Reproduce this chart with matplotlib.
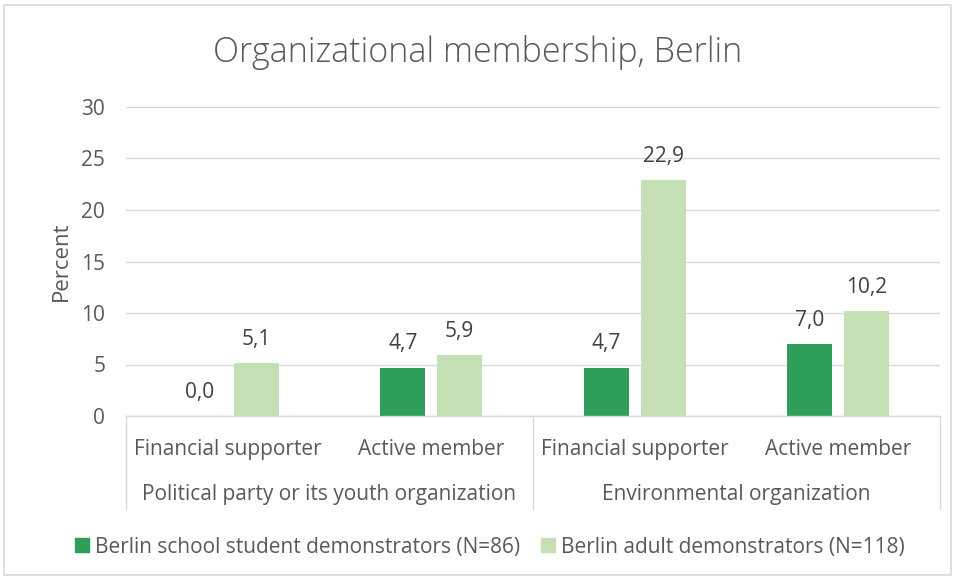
import matplotlib.pyplot as plt
from matplotlib import transforms
from matplotlib.patches import Rectangle
import numpy as np

plt.rcParams['font.family'] = ['Open Sans', 'DejaVu Sans']

subcats = ['Financial supporter', 'Active member', 'Financial supporter', 'Active member']
groups = ['Political party or its youth organization', 'Environmental organization']
students = [0.0, 4.7, 4.7, 7.0]
adults = [5.1, 5.9, 22.9, 10.2]
series_names = ['Berlin school student demonstrators (N=86)', 'Berlin adult demonstrators (N=118)']

dark = '#2E9E5A'
light = '#C5E0B4'
txt = '#595959'
grid = '#D9D9D9'
fs = 15

W, H = 956, 579
fig = plt.figure(figsize=(W / 100, H / 100), dpi=100)
ax = fig.add_axes([126 / W, 163 / H, 814 / W, 309 / H])

x = np.arange(len(subcats))
bw = 0.22
off = 0.14
b1 = ax.bar(x - off, students, bw, color=dark, zorder=3)
b2 = ax.bar(x + off, adults, bw, color=light, zorder=3)

for bars, vals in ((b1, students), (b2, adults)):
    for r, v in zip(bars, vals):
        ax.text(r.get_x() + r.get_width() / 2, v + 1.3, f'{v:.1f}'.replace('.', ','),
                ha='center', va='bottom', fontsize=fs, color='#404040')

ax.set_xlim(-0.5, 3.5)
ax.set_ylim(0, 30)
ax.set_yticks(range(0, 31, 5))
ax.yaxis.grid(True, color=grid, linewidth=1, zorder=0)
ax.tick_params(axis='y', length=0, labelsize=fs, labelcolor=txt, pad=15)
ax.set_xticks([])
for s in ax.spines.values():
    s.set_visible(False)
ax.set_ylabel('Percent', fontsize=fs + 1, color=txt, labelpad=7)

# two-level category axis
tr = transforms.blended_transform_factory(ax.transData, ax.transAxes)
for xi, lab in zip(x, subcats):
    ax.text(xi, -0.11, lab, transform=tr, ha='center', va='center',
            fontsize=fs, color=txt, clip_on=False)
for gi, g in enumerate(groups):
    ax.text(2 * gi + 0.5, -0.255, g, transform=tr, ha='center', va='center',
            fontsize=fs, color=txt, clip_on=False)
ax.plot([-0.5, 3.5], [0, 0], transform=tr, color=grid, lw=1, clip_on=False, zorder=4)
for xs in (-0.5, 1.5, 3.5):
    ax.plot([xs, xs], [0, -0.3], transform=tr, color=grid, lw=1, clip_on=False)

fig.suptitle('Organizational membership, Berlin', y=1 - 52 / H, va='center',
             fontsize=24.5, color=txt, fontweight='light')

handles = [Rectangle((0, 0), 1, 1, color=dark), Rectangle((0, 0), 1, 1, color=light)]
fig.legend(handles, series_names, loc='center', bbox_to_anchor=(0.5 + 12 / W, 1 - 547 / H),
           ncol=2, frameon=False, fontsize=fs, labelcolor=txt,
           handlelength=0.65, handleheight=0.65, handletextpad=0.3, columnspacing=1.0)

# chart area border
fig.add_artist(Rectangle((4 / W, 4 / H), 947 / W, 570 / H, transform=fig.transFigure,
                         fill=False, edgecolor=grid, linewidth=1.2))

fig.savefig('out.png', dpi=100)
